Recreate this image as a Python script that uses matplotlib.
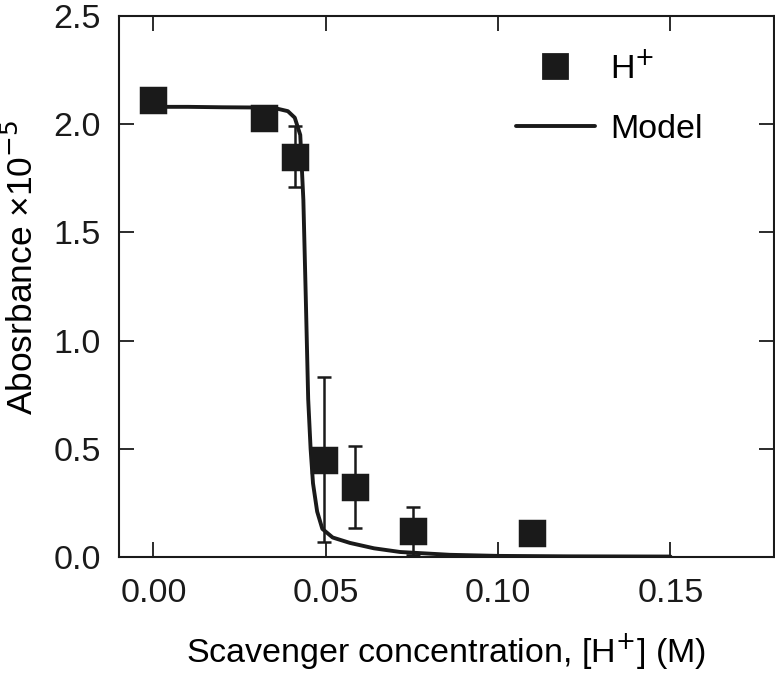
import matplotlib.pyplot as plt
from matplotlib.lines import Line2D

plt.rcParams["font.family"] = ["Liberation Sans", "DejaVu Sans"]

# measured points (H+ scavenger)
conc = [0.0, 0.032, 0.0412, 0.0495, 0.0585, 0.0753, 0.1098]
absorb = [2.11, 2.03, 1.85, 0.45, 0.325, 0.12, 0.11]
err = [0.0, 0.0, 0.14, 0.38, 0.19, 0.11, 0.0]

# model curve
model_x = [0.0, 0.01, 0.02, 0.03, 0.035, 0.039, 0.041, 0.0426, 0.0435, 0.0442,
           0.0449, 0.0456, 0.0463, 0.0475, 0.049, 0.052, 0.057, 0.064, 0.0716,
           0.086, 0.10, 0.12, 0.15]
model_y = [2.08, 2.08, 2.078, 2.077, 2.075, 2.06, 2.03, 1.95, 1.65, 1.2,
           0.73, 0.5, 0.34, 0.21, 0.13, 0.09, 0.065, 0.04, 0.023,
           0.01, 0.005, 0.003, 0.002]

fs = 24.5
ink = "#1a1a1a"

fig = plt.figure(figsize=(7.75, 6.73), dpi=100)
ax = fig.add_axes([0.1535, 0.1724, 0.845, 0.8039])

ax.plot(model_x, model_y, color=ink, lw=2.8, solid_capstyle="round",
        solid_joinstyle="round", zorder=2)
ax.errorbar(conc, absorb, yerr=err, fmt="none", ecolor=ink, elinewidth=1.8,
            capsize=5, capthick=1.8, zorder=3)
ax.plot(conc, absorb, ls="none", marker="s", ms=17, color=ink,
        mec=ink, mew=2.5, zorder=4)

ax.set_xlim(-0.01, 0.18)
ax.set_ylim(0, 2.5)
ax.set_xticks([0.0, 0.05, 0.10, 0.15])
ax.set_xticklabels(["0.00", "0.05", "0.10", "0.15"])
ax.set_yticks([0.0, 0.5, 1.0, 1.5, 2.0, 2.5])
ax.set_yticklabels(["0.0", "0.5", "1.0", "1.5", "2.0", "2.5"])
ax.tick_params(direction="in", length=11, width=1.3, labelsize=fs,
               top=True, right=True, colors=ink)
ax.tick_params(axis="x", pad=15)
ax.tick_params(axis="y", pad=13)
for s in ax.spines.values():
    s.set_linewidth(1.5)
    s.set_color(ink)

ax.set_xlabel("Scavenger concentration, [H$^{+}$] (M)", fontsize=fs, labelpad=16)
ax.set_ylabel("Abosrbance \u00d710$^{\u22125}$", fontsize=25.5)
ax.yaxis.set_label_coords(-0.121, 0.536)

handles = [
    Line2D([], [], ls="none", marker="s", ms=17, color=ink, mew=2.0),
    Line2D([], [], color=ink, lw=2.8, solid_capstyle="round"),
]
ax.legend(handles, ["H$^{+}$", "Model"], loc="upper left", frameon=False,
          fontsize=fs, handlelength=2.3, handletextpad=0.45, labelspacing=0.85,
          borderaxespad=0, bbox_to_anchor=(0.586, 0.961))

fig.savefig("out.png", dpi=100)
